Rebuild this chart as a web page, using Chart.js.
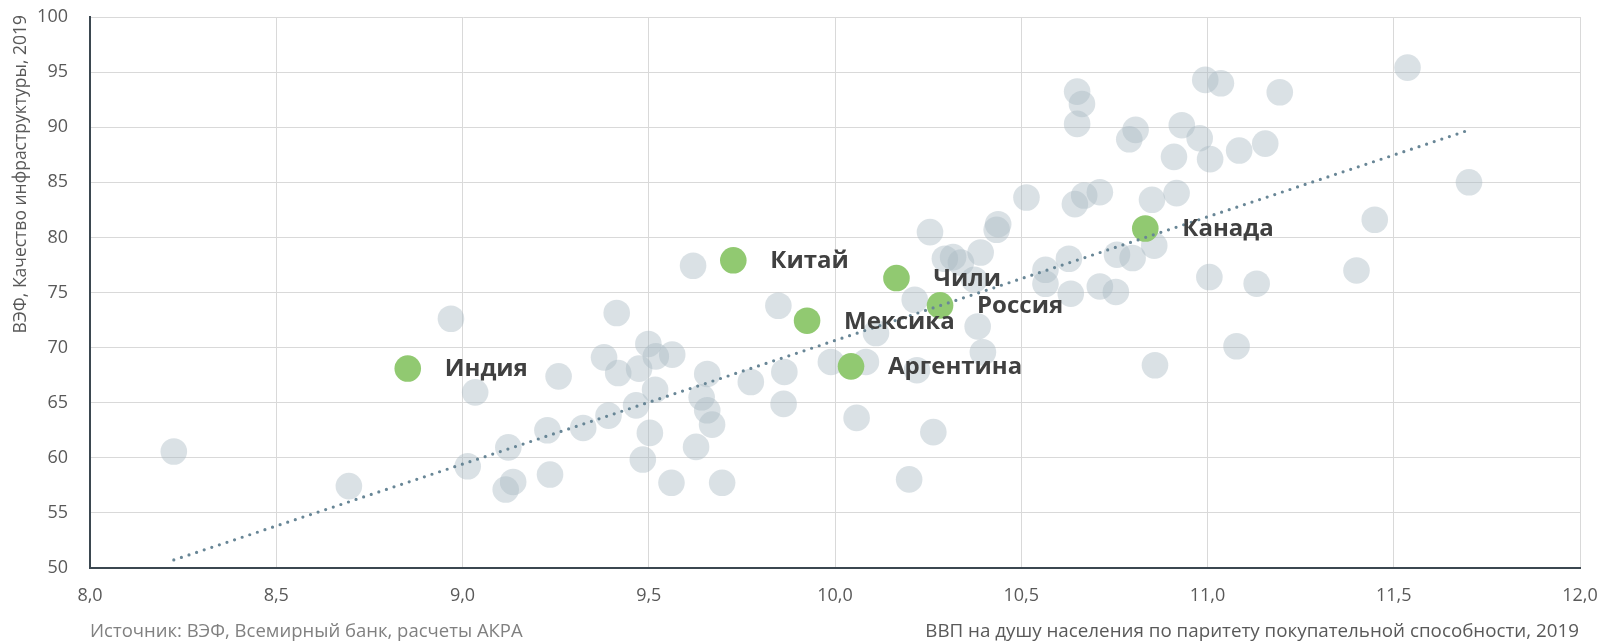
<!DOCTYPE html>
<html>
<head>
<meta charset="utf-8">
<script src="https://cdn.jsdelivr.net/npm/chart.js@4.4.1/dist/chart.umd.min.js"></script>
<style>
  html, body { margin: 0; padding: 0; background: #fff; }
  #wrap { width: 1602px; height: 642px; }
</style>
</head>
<body>
<div id="wrap"><canvas id="chart" width="1602" height="642"></canvas></div>
<script>
// ВВП на душу (лог) и индекс инфраструктуры ВЭФ, все страны
var otherX = [8.225, 8.695, 8.969, 9.034, 9.014, 9.123, 9.116, 9.136, 9.228, 9.258,
  9.235, 9.324, 9.380, 9.392, 9.414, 9.418, 9.474, 9.466, 9.484, 9.499,
  9.503, 9.517, 9.519, 9.563, 9.561, 9.619, 9.627, 9.642, 9.657, 9.657,
  9.670, 9.697, 9.774, 9.848, 9.864, 9.862, 9.989, 10.058, 10.083, 10.110,
  10.199, 10.214, 10.220, 10.255, 10.264, 10.295, 10.317, 10.338, 10.391, 10.374,
  10.383, 10.397, 10.438, 10.434, 10.514, 10.565, 10.565, 10.628, 10.633, 10.644,
  10.650, 10.663, 10.650, 10.669, 10.711, 10.711, 10.754, 10.757, 10.799, 10.790,
  10.807, 10.851, 10.857, 10.859, 10.910, 10.917, 10.931, 10.979, 10.994, 11.005,
  11.007, 11.036, 11.078, 11.085, 11.132, 11.155, 11.194, 11.400, 11.449, 11.537,
  11.702];
var otherY = [60.57, 57.43, 72.62, 65.94, 59.23, 60.95, 57.12, 57.81, 62.5, 67.39,
  58.48, 62.71, 69.11, 63.83, 73.14, 67.69, 68.09, 64.76, 59.84, 70.33,
  62.26, 66.18, 69.20, 69.36, 57.73, 77.43, 60.99, 65.49, 64.31, 67.61,
  63.01, 57.73, 66.88, 73.80, 67.79, 64.89, 68.7, 63.62, 68.7, 71.32,
  58.04, 74.34, 67.95, 80.48, 62.33, 78.06, 78.21, 77.72, 78.63, 76.16,
  71.92, 69.58, 81.2, 80.69, 83.62, 77.06, 75.79, 78.06, 74.89, 83.02,
  93.23, 92.11, 90.30, 83.8, 84.1, 75.55, 75.05, 78.43, 78.13, 88.9,
  89.76, 83.41, 79.25, 68.4, 87.31, 84.02, 90.18, 89.0, 94.29, 76.4,
  87.1, 93.99, 70.12, 87.88, 75.8, 88.51, 93.17, 77.0, 81.6, 95.41,
  85.0];

// выделенные страны
var countryNames = ["Индия", "Китай", "Мексика", "Аргентина", "Чили", "Россия", "Канада"];
var countryX = [8.853, 9.727, 9.925, 10.043, 10.165, 10.282, 10.833];
var countryY = [68.1, 77.92, 72.44, 68.3, 76.31, 73.83, 80.81];

// линия тренда (концы)
var trendX = [8.225, 11.693];
var trendY = [50.73, 89.64];

var xTicks = [8.0, 8.5, 9.0, 9.5, 10.0, 10.5, 11.0, 11.5, 12.0];
var yTicks = [50, 55, 60, 65, 70, 75, 80, 85, 90, 95, 100];

var yTitle = "ВЭФ, Качество инфраструктуры, 2019";
var xTitle = "ВВП на душу населения по паритету покупательной способности, 2019";
var source = "Источник: ВЭФ, Всемирный банк, расчеты АКРА";

var FONT = "'Open Sans', 'DejaVu Sans', sans-serif";

function toPoints(xs, ys) {
  var pts = [];
  for (var i = 0; i < xs.length; i++) pts.push({ x: xs[i], y: ys[i] });
  return pts;
}

var textPlugin = {
  id: "texts",
  afterDatasetsDraw: function (chart) {
    var ctx = chart.ctx;
    var meta = chart.getDatasetMeta(1);
    ctx.save();
    ctx.font = "bold 24px " + FONT;
    ctx.fillStyle = "#404040";
    ctx.textAlign = "left";
    ctx.textBaseline = "middle";
    meta.data.forEach(function (pt, i) {
      ctx.fillText(countryNames[i], pt.x + 37, pt.y + 1);
    });
    ctx.restore();
  },
  afterDraw: function (chart) {
    var ctx = chart.ctx, area = chart.chartArea;
    ctx.save();
    ctx.fillStyle = "#595959";
    ctx.textBaseline = "middle";
    // подпись оси Y
    ctx.save();
    ctx.font = "17.5px " + FONT;
    ctx.translate(21, area.top - 2);
    ctx.rotate(-Math.PI / 2);
    ctx.textAlign = "right";
    ctx.fillText(yTitle, 0, 0);
    ctx.restore();
    // подпись оси X
    ctx.font = "18.8px " + FONT;
    ctx.textAlign = "right";
    ctx.fillText(xTitle, 1579, 632);
    // источник
    ctx.font = "18.5px " + FONT;
    ctx.fillStyle = "#808080";
    ctx.textAlign = "left";
    ctx.fillText(source, 90, 632);
    ctx.restore();
  }
};

new Chart(document.getElementById("chart"), {
  type: "scatter",
  data: {
    datasets: [
      {
        type: "line",
        data: toPoints(trendX, trendY),
        borderColor: "rgb(104,134,150)",
        borderWidth: 3.2,
        borderDash: [0, 8],
        borderCapStyle: "round",
        pointRadius: 0,
        fill: false
      },
      {
        data: toPoints(countryX, countryY),
        backgroundColor: "rgb(145,201,113)",
        borderWidth: 0,
        pointRadius: 13.3,
        pointHoverRadius: 13.3
      },
      {
        data: toPoints(otherX, otherY),
        backgroundColor: "rgba(169,185,195,0.43)",
        borderWidth: 0,
        pointRadius: 13.3,
        pointHoverRadius: 13.3
      }
    ]
  },
  options: {
    responsive: false,
    animation: false,
    events: [],
    layout: { padding: { left: 0, top: 17, right: 22, bottom: 0 } },
    plugins: { legend: { display: false }, tooltip: { enabled: false } },
    scales: {
      x: {
        type: "linear",
        min: 8, max: 12,
        afterFit: function (s) { s.height = 74; s.paddingLeft = 0; s.paddingRight = 0; },
        afterBuildTicks: function (s) { s.ticks = xTicks.map(function (v) { return { value: v }; }); },
        grid: { color: "#d9d9d9", lineWidth: 1, drawTicks: false },
        border: { display: true, color: "#3b4750", width: 2 },
        ticks: {
          padding: 17,
          color: "#595959",
          font: { family: FONT, size: 18 },
          maxRotation: 0,
          callback: function (v) { return v.toFixed(1).replace(".", ","); }
        }
      },
      y: {
        type: "linear",
        min: 50, max: 100,
        afterFit: function (s) { s.width = 90; s.paddingTop = 0; s.paddingBottom = 0; },
        afterBuildTicks: function (s) { s.ticks = yTicks.map(function (v) { return { value: v }; }); },
        grid: { color: "#d9d9d9", lineWidth: 1, drawTicks: false },
        border: { display: true, color: "#3b4750", width: 2 },
        ticks: {
          padding: 22,
          color: "#595959",
          font: { family: FONT, size: 18 },
          callback: function (v) { return String(v); }
        }
      }
    }
  },
  plugins: [textPlugin]
});
</script>
</body>
</html>
